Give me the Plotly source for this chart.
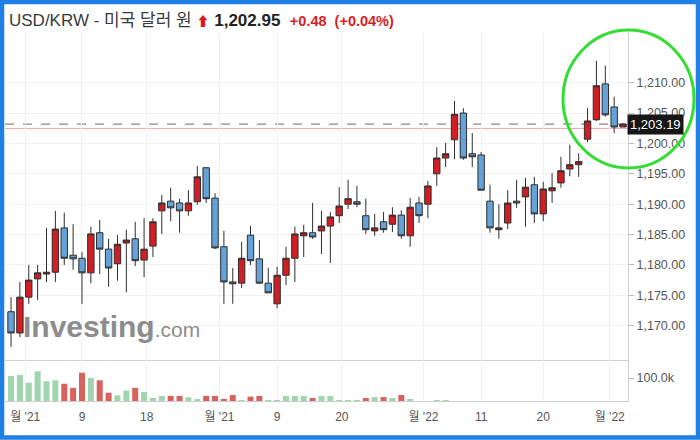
import plotly.graph_objects as go
from plotly.subplots import make_subplots

# ---------------- data ----------------
opens = [1172.3, 1168.8, 1174.7, 1177.7, 1178.5, 1178.8, 1186.1, 1181.6, 1181.1, 1178.7,
         1185.3, 1182.6, 1180.2, 1183.6, 1184.3, 1180.8, 1183.1, 1188.9, 1190.5, 1190.2,
         1188.9, 1190.4, 1196.0, 1191.0, 1183.0, 1177.2, 1177.0, 1184.9, 1181.0, 1177.0,
         1173.6, 1178.3, 1181.1, 1184.8, 1185.3, 1185.6, 1186.4, 1188.1, 1190.0, 1190.4,
         1188.1, 1185.6, 1187.1, 1186.7, 1188.2, 1184.8, 1190.2, 1190.0, 1195.0, 1197.6,
         1200.6, 1205.0, 1198.3, 1198.1, 1190.5, 1185.8, 1186.9, 1190.5, 1191.2, 1193.2,
         1188.4, 1192.2, 1193.5, 1195.8, 1196.5, 1200.7, 1203.9, 1209.8, 1206.0, 1202.7]
highs = [1174.7, 1177.2, 1180.0, 1180.0, 1186.1, 1188.9, 1188.6, 1186.7, 1182.1, 1186.3,
         1187.4, 1184.3, 1184.9, 1185.8, 1187.1, 1187.7, 1187.7, 1191.5, 1192.7, 1190.9,
         1192.3, 1196.3, 1196.1, 1191.8, 1185.6, 1179.5, 1183.8, 1186.4, 1184.1, 1179.5,
         1179.7, 1183.0, 1186.3, 1186.6, 1190.2, 1188.9, 1188.7, 1192.8, 1194.0, 1193.0,
         1190.9, 1188.4, 1188.7, 1189.5, 1189.0, 1191.0, 1191.2, 1193.8, 1199.4, 1200.1,
         1207.0, 1205.8, 1201.7, 1198.6, 1193.2, 1190.0, 1192.3, 1194.0, 1194.3, 1194.5,
         1193.7, 1195.1, 1197.8, 1199.8, 1198.4, 1205.8, 1213.6, 1212.8, 1207.7, 1203.3]
lows = [1166.5, 1168.1, 1173.6, 1174.2, 1177.2, 1177.2, 1180.0, 1179.2, 1173.6, 1177.0,
        1178.5, 1176.4, 1177.4, 1175.5, 1179.8, 1178.0, 1181.3, 1185.1, 1187.2, 1185.3,
        1188.1, 1189.9, 1190.2, 1182.6, 1173.6, 1173.6, 1176.2, 1180.0, 1176.9, 1175.4,
        1172.9, 1176.7, 1177.2, 1181.3, 1184.3, 1181.8, 1180.3, 1186.9, 1189.2, 1189.5,
        1185.1, 1184.8, 1185.3, 1185.4, 1184.3, 1183.0, 1186.9, 1187.7, 1193.0, 1196.1,
        1197.4, 1197.3, 1196.1, 1192.3, 1185.3, 1184.3, 1185.9, 1189.4, 1186.3, 1186.9,
        1187.2, 1190.2, 1192.7, 1194.6, 1194.5, 1200.2, 1203.7, 1204.4, 1201.7, 1202.7]
closes = [1168.8, 1174.7, 1177.5, 1178.7, 1178.8, 1185.9, 1181.1, 1181.0, 1178.7, 1185.1,
          1182.6, 1179.5, 1183.4, 1184.1, 1180.7, 1182.6, 1187.1, 1190.2, 1189.4, 1188.9,
          1190.2, 1194.5, 1190.9, 1182.8, 1177.2, 1176.9, 1181.1, 1180.7, 1177.0, 1175.4,
          1178.3, 1181.1, 1185.1, 1185.3, 1184.6, 1186.4, 1187.9, 1189.7, 1190.9, 1190.0,
          1185.8, 1186.1, 1185.8, 1188.2, 1184.8, 1189.5, 1188.1, 1193.0, 1197.6, 1198.3,
          1204.8, 1197.6, 1197.8, 1192.3, 1186.1, 1186.1, 1190.2, 1190.2, 1192.8, 1188.4,
          1192.5, 1192.7, 1195.5, 1196.5, 1197.0, 1203.7, 1209.5, 1204.7, 1202.7, 1203.19]
volumes = [108700, 113000, 80000, 129000, 86000, 90000, 75000, 57000, 123000, 100000,
           90000, 36000, 25000, 45000, 57000, 39000, 13000, 22000, 22000, 22000,
           16000, 9000, 22000, 22000, 9000, 26000, 3000, 19000, 22000, 4000,
           4000, 22000, 22000, 22000, 13000, 22000, 22000, 4000, 4000, 4000,
           13000, 17000, 17000, 13000, 26000, 7000, 0, 0, 2000, 2000,
           0, 0, 0, 0, 0, 0, 0, 0, 0, 0,
           0, 0, 0, 0, 0, 0, 0, 0, 0, 0]
volume_up = [1, 1, 1, 1, 1, 1, 0, 0, 0, 1,
             0, 0, 1, 1, 0, 1, 1, 1, 0, 0,
             1, 1, 0, 0, 0, 0, 1, 0, 0, 1,
             1, 1, 1, 1, 0, 1, 1, 1, 1, 1,
             0, 1, 0, 1, 0, 1, 1, 1, 1, 1,
             1, 1, 1, 1, 1, 1, 1, 1, 1, 1,
             1, 1, 1, 1, 1, 1, 1, 1, 1, 1]
days = list(range(len(opens)))

x_tick_pos = [1.6, 8, 15.3, 23.5, 30, 37.3, 46.5, 53, 60, 67.5]
x_tick_labels = ["월 '21", "9", "18", "월 '21", "9", "20", "월 '22", "11", "20", "월 '22"]
price_ticks = [1170, 1175, 1180, 1185, 1190, 1195, 1200, 1205, 1210]
volume_ticks = [100000]
volume_tick_labels = ["100.0k"]
last_price = 1203.19
prev_close = 1202.47
title_name = "USD/KRW - 미국 달러 원"
title_price = "1,202.95"
title_change = "+0.48"
title_pct = "(+0.04%)"

# ---------------- styling ----------------
W, H = 700, 440
ML, MR, MT, MB = 5, 72, 33, 39
PW, PH = W - ML - MR, H - MT - MB


def px(xp):
    return (xp - ML) / PW


def py(yp):
    return (H - MB - yp) / PH


FONT = "Liberation Sans, Arial, Noto Sans CJK KR, sans-serif"
UP_FILL = "#d01e24"
DOWN_FILL = "#64a2d8"
EDGE = "#2e2e2e"
VOL_UP = "#a0d5b0"
VOL_DOWN = "#d8625e"
GRID = "#f1f1f1"
AXLINE = "#cfcfcf"

fig = make_subplots(rows=2, cols=1, shared_xaxes=True, vertical_spacing=0)

fig.add_trace(go.Candlestick(
    x=days, open=opens, high=highs, low=lows, close=closes,
    increasing=dict(fillcolor=UP_FILL, line=dict(color=EDGE, width=1)),
    decreasing=dict(fillcolor=DOWN_FILL, line=dict(color=EDGE, width=1)),
    whiskerwidth=0, showlegend=False, hoverinfo="skip"), row=1, col=1)

fig.add_trace(go.Bar(
    x=days, y=volumes,
    marker=dict(color=[VOL_UP if u else VOL_DOWN for u in volume_up], line=dict(width=0)),
    width=0.68, showlegend=False, hoverinfo="skip"), row=2, col=1)

split = py(360)
xr = [-0.68, 69.56]
fig.update_layout(
    width=W, height=H, margin=dict(l=ML, r=MR, t=MT, b=MB),
    paper_bgcolor="white", plot_bgcolor="white",
    font=dict(family=FONT, color="#555"),
    boxgap=0.28, boxgroupgap=0.0,
    xaxis=dict(range=xr, tickvals=x_tick_pos, showticklabels=False, showgrid=True,
               gridcolor=GRID, showline=True, linecolor=AXLINE, zeroline=False,
               rangeslider=dict(visible=False), ticks=""),
    xaxis2=dict(range=xr, tickvals=x_tick_pos, ticktext=x_tick_labels, showgrid=True,
                gridcolor=GRID, showline=True, linecolor=AXLINE, zeroline=False,
                ticks="outside", ticklen=5, tickcolor="rgba(0,0,0,0)",
                tickfont=dict(size=12, color="#555"), rangeslider=dict(visible=False)),
    yaxis=dict(domain=[split, 1], range=[1164.35, 1218.18], side="right",
               tickvals=price_ticks, tickformat=",.2f", showgrid=True, gridcolor=GRID,
               showline=True, linecolor=AXLINE, zeroline=False, ticks="outside",
               ticklen=5, tickcolor="#bbb", tickfont=dict(size=12.5, color="#555")),
    yaxis2=dict(domain=[0, split], range=[0, 178300], side="right",
                tickvals=volume_ticks, ticktext=volume_tick_labels, showgrid=False,
                showline=True, linecolor=AXLINE, zeroline=False, ticks="outside",
                ticklen=5, tickcolor="#bbb", tickfont=dict(size=12.5, color="#555")),
)

shapes = [
    dict(type="line", xref="paper", x0=0, x1=1, yref="y", y0=prev_close, y1=prev_close,
         line=dict(color="#f2a3a3", width=1), layer="below"),
    dict(type="line", xref="paper", x0=0, x1=1, yref="y", y0=last_price, y1=last_price,
         line=dict(color="#8a8a8a", width=1.2, dash="dash"), layer="below"),
    dict(type="circle", xref="paper", yref="paper",
         x0=px(563), x1=px(694), y0=py(168), y1=py(30),
         line=dict(color="#33dd33", width=3), layer="above"),
    dict(type="rect", xref="paper", yref="paper",
         x0=px(2), x1=px(698), y0=py(437.5), y1=py(2),
         line=dict(color="#1f7fe5", width=4.5), layer="above"),
]
fig.update_layout(shapes=shapes)

annotations = [
    dict(xref="paper", yref="paper", x=px(7), y=py(20), xanchor="left", yanchor="middle",
         showarrow=False, align="left",
         text=(f"<span style='color:#3a3a3a'>{title_name}</span>\u00a0"
               f"<span style='color:#d81e1e;font-size:13px'>⬆</span>\u00a0"
               f"<b><span style='color:#222'>{title_price}</span></b>\u00a0\u00a0"
               f"<span style='color:#d81e1e;font-size:14.5px'><b>{title_change}\u00a0\u00a0{title_pct}</b></span>"),
         font=dict(size=17, family=FONT)),
    dict(xref="paper", yref="paper", x=px(21), y=py(326), xanchor="left", yanchor="middle",
         showarrow=False,
         text="<b>Investing</b><span style='font-size:21px'>.com</span>",
         font=dict(size=30, color="#8c8c8c", family=FONT)),
    dict(xref="paper", yref="y", x=px(627), y=last_price, xanchor="left", yanchor="middle",
         showarrow=False, text=f"{last_price:,.2f}", bgcolor="#161616", borderpad=2,
         font=dict(size=13, color="white", family=FONT)),
]
fig.update_layout(annotations=annotations)

fig.write_html("out.html", config={"displayModeBar": False},
               post_script="document.body.style.margin='0';document.body.style.overflow='hidden';")
